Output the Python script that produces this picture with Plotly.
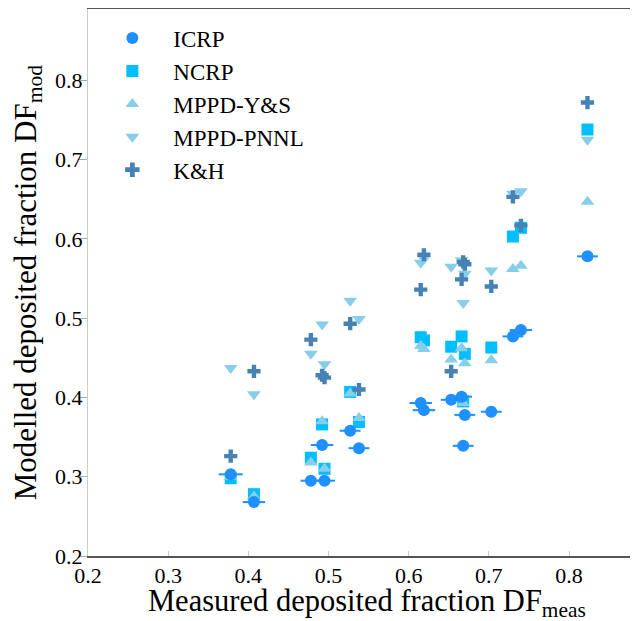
import plotly.graph_objects as go

# Measured deposited fraction (x) shared by all models
df_meas = [0.378, 0.407, 0.478, 0.492, 0.495, 0.527, 0.538, 0.615, 0.619,
           0.653, 0.666, 0.668, 0.670, 0.703, 0.730, 0.740, 0.823]
# ICRP x-uncertainty (half width)
icrp_xerr = [0.015, 0.014, 0.013, 0.014, 0.013, 0.013, 0.013, 0.014, 0.014,
             0.013, 0.013, 0.013, 0.013, 0.013, 0.013, 0.014, 0.013]

icrp = [0.303, 0.268, 0.295, 0.340, 0.295, 0.358, 0.336, 0.393, 0.384,
        0.397, 0.401, 0.339, 0.378, 0.382, 0.477, 0.485, 0.578]
ncrp = [0.298, 0.278, 0.324, 0.366, 0.310, 0.407, 0.369, 0.476, 0.472,
        0.464, 0.477, 0.395, 0.455, 0.463, 0.603, 0.614, 0.738]
mppd_ys = [0.300, 0.275, 0.318, 0.370, 0.310, 0.405, 0.374, 0.465, 0.461,
           0.448, 0.462, 0.393, 0.443, 0.447, 0.562, 0.566, 0.647]
mppd_pnnl = [0.437, 0.404, 0.455, 0.492, 0.442, 0.522, 0.499, 0.570, 0.575,
             0.565, 0.573, 0.519, 0.556, 0.560, 0.657, 0.660, 0.725]
kh = [0.326, 0.433, 0.473, 0.428, 0.425, 0.493, 0.410, 0.536, 0.580,
      0.433, 0.549, 0.571, 0.568, 0.540, 0.653, 0.617, 0.772]

tick_vals = [0.2, 0.3, 0.4, 0.5, 0.6, 0.7, 0.8]
tick_text = ["0.2", "0.3", "0.4", "0.5", "0.6", "0.7", "0.8"]

FONT = "Liberation Serif, Times New Roman, serif"

fig = go.Figure()

def add(name, y, symbol, color, rank, size=12, err=None):
    kw = {}
    if err is not None:
        kw["error_x"] = dict(type="data", array=err, visible=True,
                             color=color, thickness=2, width=0)
    fig.add_trace(go.Scatter(
        x=df_meas, y=y, mode="markers", name=name, legendrank=rank,
        marker=dict(symbol=symbol, color=color, size=size, line=dict(width=0)),
        **kw))

add("NCRP", ncrp, "square", "#00BFFF", 2, size=12)
add("MPPD-Y&S", mppd_ys, "triangle-up", "#87CEEB", 3, size=12)
add("MPPD-PNNL", mppd_pnnl, "triangle-down", "#87CEEB", 4, size=12)
add("K&H", kh, "cross", "#4682B4", 5, size=11)
add("ICRP", icrp, "circle", "#1E90FF", 1, size=12, err=icrp_xerr)

fig.update_layout(
    width=638, height=621,
    margin=dict(l=80, r=0, t=1, b=73, autoexpand=False),
    paper_bgcolor="white", plot_bgcolor="white",
    font=dict(family=FONT, size=22, color="black"),
    showlegend=True,
    legend=dict(x=0.006, y=0.986, xanchor="left", yanchor="top",
                bgcolor="rgba(0,0,0,0)", font=dict(size=23, family=FONT),
                itemsizing="constant", itemwidth=72, traceorder="normal"),
    annotations=[dict(
        text="Measured deposited fraction DF<sub>meas</sub>",
        xref="paper", yref="paper", x=0.5, y=-0.0855,
        xanchor="center", yanchor="middle", showarrow=False,
        font=dict(size=30.5, family=FONT, color="black"))],
)
fig.update_xaxes(
    range=[0.2, 0.896], tickvals=tick_vals, ticktext=tick_text,
    showgrid=False, zeroline=False,
    showline=True, linecolor="#555555", linewidth=1.5, mirror=True,
    ticks="inside", ticklen=5, tickcolor="#cccccc",
    tickfont=dict(size=22, family=FONT, color="black"),
    ticklabelstandoff=-1,
    automargin=False,
)
fig.update_yaxes(
    range=[0.2, 0.890], tickvals=tick_vals, ticktext=tick_text,
    showgrid=False, zeroline=False,
    showline=True, linecolor="#cccccc", linewidth=1,
    ticks="outside", ticklen=9, tickcolor="#aaaaaa",
    tickfont=dict(size=22, family=FONT, color="black"),
    ticklabelstandoff=-9,
    title=dict(text="Modelled deposited fraction DF<sub>mod</sub>",
               font=dict(size=31, family=FONT), standoff=19),
    automargin=False,
)

fig.write_html("out.html")
